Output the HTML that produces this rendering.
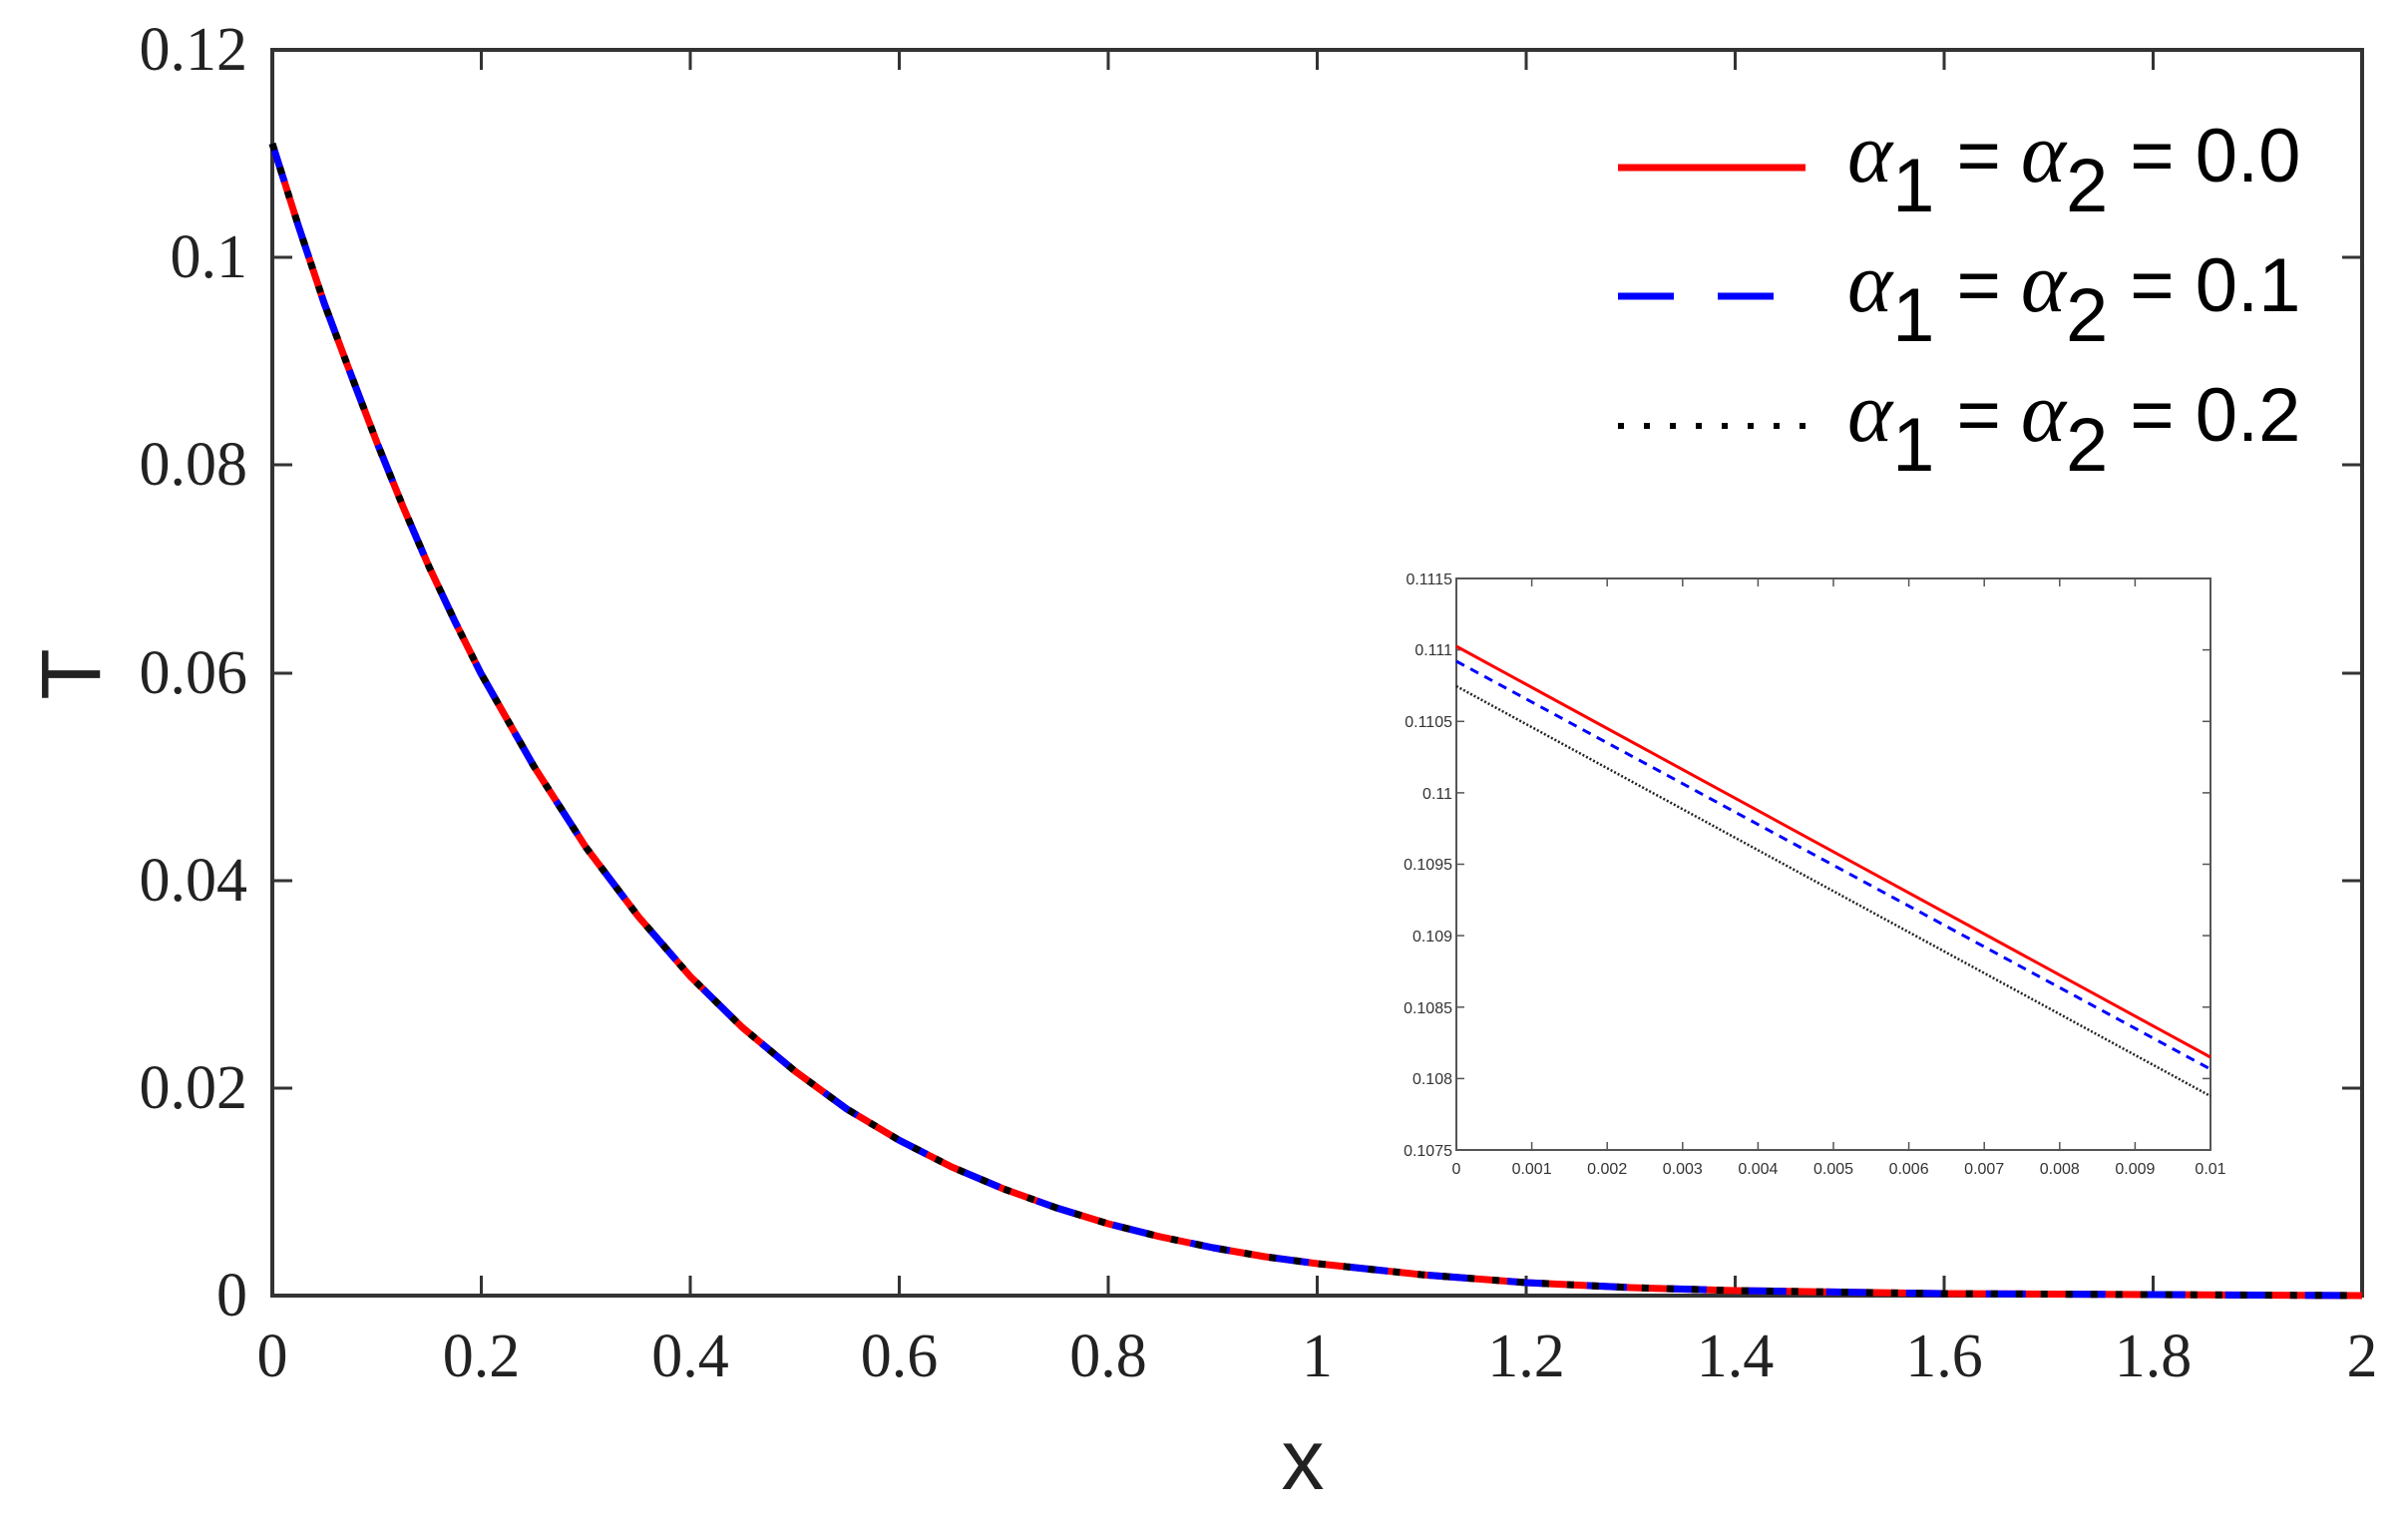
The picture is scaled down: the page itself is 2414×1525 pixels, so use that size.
<!DOCTYPE html>
<html><head><meta charset="utf-8"><style>
html,body{margin:0;padding:0;background:#fff;}
svg{display:block;}
</style></head><body>
<svg width="2414" height="1525" viewBox="0 0 2414 1525" xmlns="http://www.w3.org/2000/svg">
<rect width="2414" height="1525" fill="#fff"/>
<rect x="273" y="50" width="2095" height="1249" fill="none" stroke="#333" stroke-width="4"/>
<g stroke="#333" stroke-width="3">
<line x1="273" y1="258" x2="293" y2="258"/><line x1="2368" y1="258" x2="2348" y2="258"/>
<line x1="273" y1="466" x2="293" y2="466"/><line x1="2368" y1="466" x2="2348" y2="466"/>
<line x1="273" y1="675" x2="293" y2="675"/><line x1="2368" y1="675" x2="2348" y2="675"/>
<line x1="273" y1="883" x2="293" y2="883"/><line x1="2368" y1="883" x2="2348" y2="883"/>
<line x1="273" y1="1091" x2="293" y2="1091"/><line x1="2368" y1="1091" x2="2348" y2="1091"/>
<line x1="482.5" y1="1299" x2="482.5" y2="1279"/><line x1="482.5" y1="50" x2="482.5" y2="70"/>
<line x1="692" y1="1299" x2="692" y2="1279"/><line x1="692" y1="50" x2="692" y2="70"/>
<line x1="901.5" y1="1299" x2="901.5" y2="1279"/><line x1="901.5" y1="50" x2="901.5" y2="70"/>
<line x1="1111" y1="1299" x2="1111" y2="1279"/><line x1="1111" y1="50" x2="1111" y2="70"/>
<line x1="1320.5" y1="1299" x2="1320.5" y2="1279"/><line x1="1320.5" y1="50" x2="1320.5" y2="70"/>
<line x1="1530" y1="1299" x2="1530" y2="1279"/><line x1="1530" y1="50" x2="1530" y2="70"/>
<line x1="1739.5" y1="1299" x2="1739.5" y2="1279"/><line x1="1739.5" y1="50" x2="1739.5" y2="70"/>
<line x1="1949" y1="1299" x2="1949" y2="1279"/><line x1="1949" y1="50" x2="1949" y2="70"/>
<line x1="2158.5" y1="1299" x2="2158.5" y2="1279"/><line x1="2158.5" y1="50" x2="2158.5" y2="70"/>
</g>
<g font-family="'Liberation Serif',serif" font-size="62" fill="#222" text-anchor="end">
<text x="248" y="70">0.12</text>
<text x="248" y="278">0.1</text>
<text x="248" y="486">0.08</text>
<text x="248" y="695">0.06</text>
<text x="248" y="903">0.04</text>
<text x="248" y="1111">0.02</text>
<text x="248" y="1319">0</text>
</g>
<g font-family="'Liberation Serif',serif" font-size="62" fill="#222" text-anchor="middle">
<text x="273" y="1380">0</text>
<text x="482.5" y="1380">0.2</text>
<text x="692" y="1380">0.4</text>
<text x="901.5" y="1380">0.6</text>
<text x="1111" y="1380">0.8</text>
<text x="1320.5" y="1380">1</text>
<text x="1530" y="1380">1.2</text>
<text x="1739.5" y="1380">1.4</text>
<text x="1949" y="1380">1.6</text>
<text x="2158.5" y="1380">1.8</text>
<text x="2368" y="1380">2</text>
</g>
<text x="1306" y="1493" font-family="'Liberation Sans',sans-serif" font-size="86" fill="#222" text-anchor="middle">x</text>
<text transform="translate(100,676) rotate(-90)" font-family="'Liberation Sans',sans-serif" font-size="84" fill="#222" text-anchor="middle">T</text>
<g fill="none" stroke-width="7" stroke-linejoin="round">
<polyline stroke="#f00" points="273,144 299,226 325,304 352,376 378,444 404,508 430,568 456,623 482,675 535,768 587,849 640,919 692,979 744,1030 797,1074 849,1112 901,1143 954,1170 1006,1192 1059,1211 1111,1227 1163,1240 1216,1251 1268,1260 1321,1267 1425,1278 1530,1286 1635,1291 1740,1294 1949,1297 2158,1298 2368,1299"/>
<polyline stroke="#00f" stroke-dasharray="40 40" points="273,144 299,226 325,304 352,376 378,444 404,508 430,568 456,623 482,675 535,768 587,849 640,919 692,979 744,1030 797,1074 849,1112 901,1143 954,1170 1006,1192 1059,1211 1111,1227 1163,1240 1216,1251 1268,1260 1321,1267 1425,1278 1530,1286 1635,1291 1740,1294 1949,1297 2158,1298 2368,1299"/>
<polyline stroke="#000" stroke-dasharray="7 18" points="273,144 299,226 325,304 352,376 378,444 404,508 430,568 456,623 482,675 535,768 587,849 640,919 692,979 744,1030 797,1074 849,1112 901,1143 954,1170 1006,1192 1059,1211 1111,1227 1163,1240 1216,1251 1268,1260 1321,1267 1425,1278 1530,1286 1635,1291 1740,1294 1949,1297 2158,1298 2368,1299"/>
</g>
<line x1="1622" y1="168" x2="1810" y2="168" stroke="#f00" stroke-width="7"/>
<line x1="1622" y1="297" x2="1678" y2="297" stroke="#00f" stroke-width="7"/>
<line x1="1722" y1="297" x2="1778" y2="297" stroke="#00f" stroke-width="7"/>
<line x1="1622" y1="427" x2="1810" y2="427" stroke="#000" stroke-width="6" stroke-dasharray="6 20"/>
<g font-family="'Liberation Sans',sans-serif" font-size="76" fill="#000">
<text y="182"><tspan x="1852" font-family="'Liberation Serif',serif" font-style="italic" font-size="86">α</tspan><tspan dy="30">1</tspan><tspan dy="-30" dx="22">=</tspan><tspan dx="20" font-family="'Liberation Serif',serif" font-style="italic" font-size="86">α</tspan><tspan dy="30">2</tspan><tspan dy="-30" dx="22">= 0.0</tspan></text>
<text y="312"><tspan x="1852" font-family="'Liberation Serif',serif" font-style="italic" font-size="86">α</tspan><tspan dy="30">1</tspan><tspan dy="-30" dx="22">=</tspan><tspan dx="20" font-family="'Liberation Serif',serif" font-style="italic" font-size="86">α</tspan><tspan dy="30">2</tspan><tspan dy="-30" dx="22">= 0.1</tspan></text>
<text y="442"><tspan x="1852" font-family="'Liberation Serif',serif" font-style="italic" font-size="86">α</tspan><tspan dy="30">1</tspan><tspan dy="-30" dx="22">=</tspan><tspan dx="20" font-family="'Liberation Serif',serif" font-style="italic" font-size="86">α</tspan><tspan dy="30">2</tspan><tspan dy="-30" dx="22">= 0.2</tspan></text>
</g>
<rect x="1460" y="580" width="756" height="573" fill="#fff" stroke="#555" stroke-width="2"/>
<g stroke="#555" stroke-width="1.5">
<line x1="1460" y1="651.6" x2="1468" y2="651.6"/><line x1="2216" y1="651.6" x2="2208" y2="651.6"/>
<line x1="1460" y1="723.3" x2="1468" y2="723.3"/><line x1="2216" y1="723.3" x2="2208" y2="723.3"/>
<line x1="1460" y1="794.9" x2="1468" y2="794.9"/><line x1="2216" y1="794.9" x2="2208" y2="794.9"/>
<line x1="1460" y1="866.5" x2="1468" y2="866.5"/><line x1="2216" y1="866.5" x2="2208" y2="866.5"/>
<line x1="1460" y1="938.1" x2="1468" y2="938.1"/><line x1="2216" y1="938.1" x2="2208" y2="938.1"/>
<line x1="1460" y1="1009.8" x2="1468" y2="1009.8"/><line x1="2216" y1="1009.8" x2="2208" y2="1009.8"/>
<line x1="1460" y1="1081.4" x2="1468" y2="1081.4"/><line x1="2216" y1="1081.4" x2="2208" y2="1081.4"/>
<line x1="1535.6" y1="1153" x2="1535.6" y2="1145"/><line x1="1535.6" y1="580" x2="1535.6" y2="588"/>
<line x1="1611.2" y1="1153" x2="1611.2" y2="1145"/><line x1="1611.2" y1="580" x2="1611.2" y2="588"/>
<line x1="1686.8" y1="1153" x2="1686.8" y2="1145"/><line x1="1686.8" y1="580" x2="1686.8" y2="588"/>
<line x1="1762.4" y1="1153" x2="1762.4" y2="1145"/><line x1="1762.4" y1="580" x2="1762.4" y2="588"/>
<line x1="1838" y1="1153" x2="1838" y2="1145"/><line x1="1838" y1="580" x2="1838" y2="588"/>
<line x1="1913.6" y1="1153" x2="1913.6" y2="1145"/><line x1="1913.6" y1="580" x2="1913.6" y2="588"/>
<line x1="1989.2" y1="1153" x2="1989.2" y2="1145"/><line x1="1989.2" y1="580" x2="1989.2" y2="588"/>
<line x1="2064.8" y1="1153" x2="2064.8" y2="1145"/><line x1="2064.8" y1="580" x2="2064.8" y2="588"/>
<line x1="2140.4" y1="1153" x2="2140.4" y2="1145"/><line x1="2140.4" y1="580" x2="2140.4" y2="588"/>
</g>
<g font-family="'Liberation Sans',sans-serif" font-size="16" fill="#333" text-anchor="end">
<text x="1456" y="586">0.1115</text>
<text x="1456" y="657">0.111</text>
<text x="1456" y="729">0.1105</text>
<text x="1456" y="801">0.11</text>
<text x="1456" y="872">0.1095</text>
<text x="1456" y="944">0.109</text>
<text x="1456" y="1016">0.1085</text>
<text x="1456" y="1087">0.108</text>
<text x="1456" y="1159">0.1075</text>
</g>
<g font-family="'Liberation Sans',sans-serif" font-size="16" fill="#333" text-anchor="middle">
<text x="1460" y="1177">0</text>
<text x="1535.6" y="1177">0.001</text>
<text x="1611.2" y="1177">0.002</text>
<text x="1686.8" y="1177">0.003</text>
<text x="1762.4" y="1177">0.004</text>
<text x="1838" y="1177">0.005</text>
<text x="1913.6" y="1177">0.006</text>
<text x="1989.2" y="1177">0.007</text>
<text x="2064.8" y="1177">0.008</text>
<text x="2140.4" y="1177">0.009</text>
<text x="2216" y="1177">0.01</text>
</g>
<line x1="1460" y1="648" x2="2216" y2="1060" stroke="#f00" stroke-width="3"/>
<line x1="1460" y1="663" x2="2216" y2="1072" stroke="#00f" stroke-width="3" stroke-dasharray="9 7"/>
<line x1="1460" y1="688" x2="2216" y2="1099" stroke="#222" stroke-width="2.5" stroke-dasharray="2 2"/>
</svg>
</body></html>
